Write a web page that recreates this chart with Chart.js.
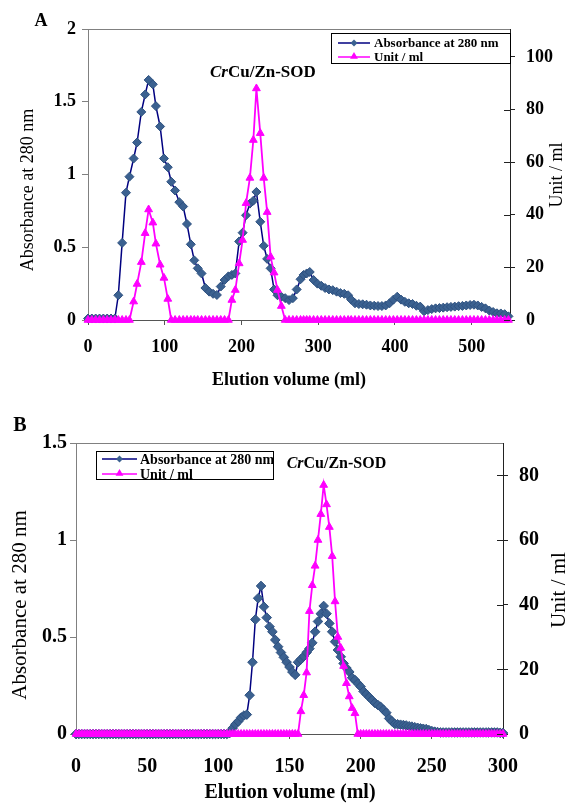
<!DOCTYPE html>
<html lang="en">
<head>
<meta charset="UTF-8">
<title>CrCu/Zn-SOD elution profiles</title>
<script src="https://cdn.jsdelivr.net/npm/chart.js@4.4.0/dist/chart.umd.min.js"></script>
<style>
  body { margin: 0; background: #fff; }
  .wrap { position: relative; width: 567px; height: 803px; }
  canvas { position: absolute; left: 0; }
  #chartA { top: 0; }
  #chartB { top: 400px; }
</style>
</head>
<body>
<div class="wrap">
  <canvas id="chartA" width="567" height="400"></canvas>
  <canvas id="chartB" width="567" height="403"></canvas>
</div>
<script>
// ---- panel A ----
const volumeA = [
  0, 5, 10, 15, 20, 25, 30, 35, 39.5, 44.5,
  49.5, 54, 59.5, 64, 69.5, 74.5, 79, 84.5, 88.5, 94,
  99, 104, 108.5, 113.5, 119, 124, 129, 134, 138.5, 143,
  148, 153, 158, 163, 168, 173, 178, 183, 187.5, 192,
  197, 201.5, 206, 211, 215.5, 219.5, 224.5, 229, 233.5, 238,
  242.5, 247, 252, 257, 262, 267, 272, 277, 281, 285,
  289, 294, 299, 304, 309, 314, 319, 324, 329, 334,
  339, 343, 348, 353, 358, 363, 368, 373, 378, 383,
  388, 393, 398, 403, 408, 413, 418, 423, 428, 433,
  438, 443, 448, 453, 458, 463, 468, 473, 478, 483,
  488, 493, 498, 503, 508, 513, 518, 523, 528, 533,
  538, 543, 548
];
const absorbanceA = [
  0.01, 0.01, 0.01, 0.01, 0.01, 0.01, 0.01, 0.01, 0.17, 0.53,
  0.875, 0.985, 1.11, 1.22, 1.43, 1.55, 1.65, 1.62, 1.47, 1.33,
  1.11, 1.05, 0.95, 0.89, 0.81, 0.78, 0.66, 0.52, 0.41, 0.355,
  0.32, 0.22, 0.195, 0.18, 0.172, 0.23, 0.275, 0.30, 0.31, 0.32,
  0.54, 0.60, 0.72, 0.80, 0.82, 0.88, 0.675, 0.51, 0.42, 0.355,
  0.21, 0.17, 0.16, 0.15, 0.137, 0.15, 0.21, 0.28, 0.31, 0.32,
  0.33, 0.275, 0.25, 0.235, 0.22, 0.21, 0.205, 0.195, 0.185, 0.18,
  0.17, 0.14, 0.115, 0.11, 0.108, 0.105, 0.1, 0.098, 0.096, 0.096,
  0.1, 0.115, 0.14, 0.16, 0.14, 0.125, 0.115, 0.11, 0.098, 0.092,
  0.06, 0.068, 0.075, 0.08, 0.082, 0.085, 0.088, 0.09, 0.092, 0.095,
  0.097, 0.1, 0.103, 0.105, 0.1, 0.09, 0.08, 0.065, 0.055, 0.046,
  0.045, 0.04, 0.025
];
const unitsA = [
  0, 0, 0, 0, 0, 0, 0, 0, 0, 0,
  0, 0, 7, 13.7, 22, 33, 42, 37, 29, 21,
  16, 8, 0, 0, 0, 0, 0, 0, 0, 0,
  0, 0, 0, 0, 0, 0, 0, 0, 7.6, 11.4,
  21.5, 30.4, 44.4, 54, 68.4, 88, 71, 54, 41, 24,
  18, 11.4, 5.3, 0, 0, 0, 0, 0, 0, 0,
  0, 0, 0, 0, 0, 0, 0, 0, 0, 0,
  0, 0, 0, 0, 0, 0, 0, 0, 0, 0,
  0, 0, 0, 0, 0, 0, 0, 0, 0, 0,
  0, 0, 0, 0, 0, 0, 0, 0, 0, 0,
  0, 0, 0, 0, 0, 0, 0, 0, 0, 0,
  0, 0, 0
];
const volumeTicksA = [0, 100, 200, 300, 400, 500];
const absTicksA = [0, 0.5, 1, 1.5, 2];
const unitTicksA = [0, 20, 40, 60, 80, 100];

// ---- panel B ----
const volumeB = [
  0, 2, 4, 6, 8, 10, 12, 14, 16, 18,
  20, 22, 24, 26, 28, 30, 32, 34, 36, 38,
  40, 42, 44, 46, 48, 50, 52, 54, 56, 58,
  60, 62, 64, 66, 68, 70, 72, 74, 76, 78,
  80, 82, 84, 86, 88, 90, 92, 94, 96, 98,
  100, 102, 104, 106, 108, 110, 112, 114, 116, 118,
  120, 122, 124, 126, 128, 130, 132, 134, 136, 138,
  140, 142, 144, 146, 148, 150, 152, 154, 156, 158,
  160, 162, 164, 166, 168, 170, 172, 174, 176, 178,
  180, 182, 184, 186, 188, 190, 192, 194, 196, 198,
  200, 202, 204, 206, 208, 210, 212, 214, 216, 218,
  220, 222, 224, 226, 228, 230, 232, 234, 236, 238,
  240, 242, 244, 246, 248, 250, 252, 254, 256, 258,
  260, 262, 264, 266, 268, 270, 272, 274, 276, 278,
  280, 282, 284, 286, 288, 290, 292, 294, 296, 298,
  300
];
const absorbanceB = [
  0, 0, 0, 0, 0, 0, 0, 0, 0, 0,
  0, 0, 0, 0, 0, 0, 0, 0, 0, 0,
  0, 0, 0, 0, 0, 0, 0, 0, 0, 0,
  0, 0, 0, 0, 0, 0, 0, 0, 0, 0,
  0, 0, 0, 0, 0, 0, 0, 0, 0, 0,
  0, 0, 0, 0, 0.005, 0.03, 0.05, 0.065, 0.085, 0.095,
  0.10, 0.20, 0.37, 0.59, 0.70, 0.763, 0.656, 0.60, 0.553, 0.527,
  0.485, 0.45, 0.42, 0.395, 0.37, 0.345, 0.32, 0.305, 0.37, 0.385,
  0.40, 0.42, 0.44, 0.47, 0.527, 0.58, 0.62, 0.66, 0.62, 0.57,
  0.527, 0.476, 0.433, 0.398, 0.364, 0.34, 0.32, 0.29, 0.278, 0.26,
  0.244, 0.22, 0.205, 0.19, 0.175, 0.16, 0.15, 0.14, 0.125, 0.11,
  0.08, 0.065, 0.052, 0.05, 0.048, 0.046, 0.044, 0.04, 0.038, 0.035,
  0.032, 0.029, 0.027, 0.025, 0.02, 0.015, 0.012, 0.01, 0.008, 0.008,
  0.008, 0.008, 0.008, 0.008, 0.008, 0.008, 0.008, 0.008, 0.008, 0.008,
  0.008, 0.008, 0.008, 0.008, 0.008, 0.008, 0.008, 0.008, 0.008, 0.006,
  0.005
];
const unitsB = [
  0, 0, 0, 0, 0, 0, 0, 0, 0, 0,
  0, 0, 0, 0, 0, 0, 0, 0, 0, 0,
  0, 0, 0, 0, 0, 0, 0, 0, 0, 0,
  0, 0, 0, 0, 0, 0, 0, 0, 0, 0,
  0, 0, 0, 0, 0, 0, 0, 0, 0, 0,
  0, 0, 0, 0, 0, 0, 0, 0, 0, 0,
  0, 0, 0, 0, 0, 0, 0, 0, 0, 0,
  0, 0, 0, 0, 0, 0, 0, 0, 0, 7,
  12, 19, 38, 46, 52, 60, 68, 77, 71, 64,
  55, 41, 30, 26.6, 21, 15.7, 11.6, 8, 6.4, 0,
  0, 0, 0, 0, 0, 0, 0, 0, 0, 0,
  0, 0, 0, 0, 0, 0, 0, 0, 0, 0,
  0, 0, 0, 0, 0, 0, 0, 0, 0, 0,
  0, 0, 0, 0, 0, 0, 0, 0, 0, 0,
  0, 0, 0, 0, 0, 0, 0, 0, 0, 0,
  0
];
const volumeTicksB = [0, 50, 100, 150, 200, 250, 300];
const absTicksB = [0, 0.5, 1, 1.5];
const unitTicksB = [0, 20, 40, 60, 80];

const SERIF = '"Liberation Serif", "Times New Roman", serif';
const BLUE_LINE = '#000080';
const BLUE_FILL = '#3b6190';
const PINK = '#ff00ff';

function diamond(ctx, x, y, r) {
  ctx.beginPath();
  ctx.moveTo(x, y - r); ctx.lineTo(x + r, y); ctx.lineTo(x, y + r); ctx.lineTo(x - r, y);
  ctx.closePath(); ctx.fill();
}
function triangle(ctx, x, y, r) {
  ctx.beginPath();
  ctx.moveTo(x, y - r); ctx.lineTo(x + r * 0.87, y + r * 0.5); ctx.lineTo(x - r * 0.87, y + r * 0.5);
  ctx.closePath(); ctx.fill();
}
function upText(ctx, str, x, y, font) {
  ctx.save();
  ctx.translate(x, y); ctx.rotate(-Math.PI / 2);
  ctx.font = font; ctx.textAlign = 'center'; ctx.textBaseline = 'middle';
  ctx.fillText(str, 0, 0);
  ctx.restore();
}

// titles, legend box, annotation, top border
const extras = {
  id: 'extras',
  afterDraw(chart, args, o) {
    const ctx = chart.ctx, area = chart.chartArea;
    ctx.save();
    ctx.lineWidth = 1;
    ctx.strokeStyle = '#808080';
    ctx.beginPath(); ctx.moveTo(area.left, area.top + 0.5); ctx.lineTo(area.right, area.top + 0.5); ctx.stroke();

    const y2 = chart.scales.y2;
    ctx.strokeStyle = '#222';
    y2.ticks.forEach(t => {
      const py = Math.round(y2.getPixelForValue(t.value)) + 0.5;
      ctx.beginPath(); ctx.moveTo(area.right - 6, py); ctx.lineTo(area.right, py); ctx.stroke();
    });

    ctx.fillStyle = '#000';
    ctx.textAlign = 'center'; ctx.textBaseline = 'middle';
    ctx.font = 'bold ' + o.panelSize + 'px ' + SERIF;
    ctx.fillText(o.panel, o.panelX, o.panelY);
    ctx.font = 'bold ' + o.xTitleSize + 'px ' + SERIF;
    ctx.fillText('Elution volume (ml)', o.xTitleX, o.xTitleY);
    upText(ctx, 'Absorbance at 280 nm', o.yTitleX, o.yTitleY, o.yTitleSize + 'px ' + SERIF);
    upText(ctx, 'Unit / ml', o.y2TitleX, o.y2TitleY, o.y2TitleSize + 'px ' + SERIF);

    // enzyme label
    const nx = chart.scales.x.getPixelForValue(o.noteX);
    const ny = chart.scales.y.getPixelForValue(o.noteY);
    ctx.textAlign = 'left';
    ctx.font = 'italic bold ' + o.noteSize + 'px ' + SERIF;
    ctx.fillText('Cr', nx, ny);
    const w = ctx.measureText('Cr').width;
    ctx.font = 'bold ' + o.noteSize + 'px ' + SERIF;
    ctx.fillText('Cu/Zn-SOD', nx + w, ny);

    // legend
    const L = o.legend;
    ctx.fillStyle = '#fff';
    ctx.fillRect(L.x, L.y, L.w, L.h);
    ctx.strokeStyle = '#000';
    ctx.strokeRect(L.x + 0.5, L.y + 0.5, L.w, L.h);
    ctx.font = 'bold ' + L.size + 'px ' + SERIF;
    ctx.textBaseline = 'middle';
    chart.data.datasets.forEach((ds, i) => {
      const ry = L.y + L.rows[i];
      ctx.strokeStyle = ds.borderColor; ctx.lineWidth = 1.5;
      ctx.beginPath(); ctx.moveTo(L.x + L.line0, ry); ctx.lineTo(L.x + L.line1, ry); ctx.stroke();
      ctx.fillStyle = ds.pointBackgroundColor;
      const mx = L.x + (L.line0 + L.line1) / 2;
      if (ds.pointStyle === 'rectRot') diamond(ctx, mx, ry, 3.5); else triangle(ctx, mx, ry - 0.5, 4.5);
      ctx.fillStyle = '#000';
      ctx.fillText(ds.label, L.x + L.text, ry + 1);
    });
    ctx.restore();
  }
};

function pairs(xs, ys) { return xs.map((v, i) => ({ x: v, y: ys[i] })); }

function build(id, p) {
  const tickFont = { family: SERIF, size: p.tickSize, weight: 'bold' };
  return new Chart(document.getElementById(id), {
    type: 'line',
    data: {
      datasets: [
        {
          label: 'Absorbance at 280 nm',
          data: pairs(p.volume, p.abs),
          yAxisID: 'y',
          borderColor: BLUE_LINE,
          borderWidth: 1.5,
          pointStyle: 'rectRot',
          pointRadius: p.diamond,
          pointBackgroundColor: BLUE_FILL,
          pointBorderColor: '#2e5180',
          pointBorderWidth: 1,
          clip: false,
          order: 2
        },
        {
          label: 'Unit / ml',
          data: pairs(p.volume, p.units),
          yAxisID: 'y2',
          borderColor: PINK,
          borderWidth: 1.8,
          pointStyle: 'triangle',
          pointRadius: p.tri,
          pointBackgroundColor: PINK,
          pointBorderColor: PINK,
          pointBorderWidth: 1,
          clip: false,
          order: 1
        }
      ]
    },
    options: {
      responsive: false,
      animation: false,
      events: [],
      layout: { padding: { top: p.top, left: 0, right: 0, bottom: 0 } },
      plugins: { legend: { display: false }, tooltip: { enabled: false }, extras: p.extras },
      scales: {
        x: {
          type: 'linear', min: 0, max: p.xMax,
          afterBuildTicks: s => { s.ticks = p.xTicks.map(v => ({ value: v })); },
          afterFit: s => { s.height = p.xHeight; },
          grid: { drawOnChartArea: false, tickLength: 5, tickColor: '#555' },
          border: { color: '#555' },
          ticks: { font: tickFont, color: '#000', padding: p.xPad, maxRotation: 0 }
        },
        y: {
          position: 'left', min: 0, max: p.yMax,
          afterBuildTicks: s => { s.ticks = p.yTicks.map(v => ({ value: v })); },
          afterFit: s => { s.width = p.leftW; },
          grid: { drawOnChartArea: false, tickLength: 6, tickColor: '#808080' },
          border: { color: '#808080' },
          ticks: { font: tickFont, color: '#000', padding: p.yPad, callback: v => String(v) }
        },
        y2: {
          position: 'right', min: 0, max: p.y2Max,
          afterBuildTicks: s => { s.ticks = p.y2Ticks.map(v => ({ value: v })); },
          afterFit: s => { s.width = p.rightW; },
          grid: { drawOnChartArea: false, tickLength: 5, tickColor: '#222' },
          border: { color: '#222' },
          ticks: { font: tickFont, color: '#000', padding: 11, callback: v => String(v) }
        }
      }
    },
    plugins: [extras]
  });
}

build('chartA', {
  volume: volumeA, abs: absorbanceA, units: unitsA,
  xMax: 550, yMax: 2, y2Max: 110.6,
  xTicks: volumeTicksA, yTicks: absTicksA, y2Ticks: unitTicksA,
  top: 29, xHeight: 80, leftW: 88, rightW: 57,
  tickSize: 18, xPad: 12, yPad: 6, diamond: 4.5, tri: 4.5,
  extras: {
    panel: 'A', panelX: 41, panelY: 21, panelSize: 18,
    xTitleX: 289, xTitleY: 380, xTitleSize: 18,
    yTitleX: 28, yTitleY: 190, yTitleSize: 18,
    y2TitleX: 557, y2TitleY: 175, y2TitleSize: 18,
    noteX: 159, noteY: 1.70, noteSize: 17,
    legend: { x: 331, y: 33, w: 179, h: 30, rows: [10, 24], line0: 7, line1: 39, text: 43, size: 13 }
  }
});

build('chartB', {
  volume: volumeB, abs: absorbanceB, units: unitsB,
  xMax: 300, yMax: 1.5, y2Max: 90,
  xTicks: volumeTicksB, yTicks: absTicksB, y2Ticks: unitTicksB,
  top: 43, xHeight: 69, leftW: 76, rightW: 64,
  tickSize: 20, xPad: 16, yPad: 3, diamond: 4.8, tri: 4.5,
  extras: {
    panel: 'B', panelX: 20, panelY: 26, panelSize: 20,
    xTitleX: 290, xTitleY: 393, xTitleSize: 20,
    yTitleX: 20, yTitleY: 205, yTitleSize: 21,
    y2TitleX: 559, y2TitleY: 190, y2TitleSize: 21,
    noteX: 148, noteY: 1.39, noteSize: 16,
    legend: { x: 96, y: 51, w: 177, h: 28, rows: [8, 23], line0: 6, line1: 41, text: 44, size: 14 }
  }
});
</script>
</body>
</html>
